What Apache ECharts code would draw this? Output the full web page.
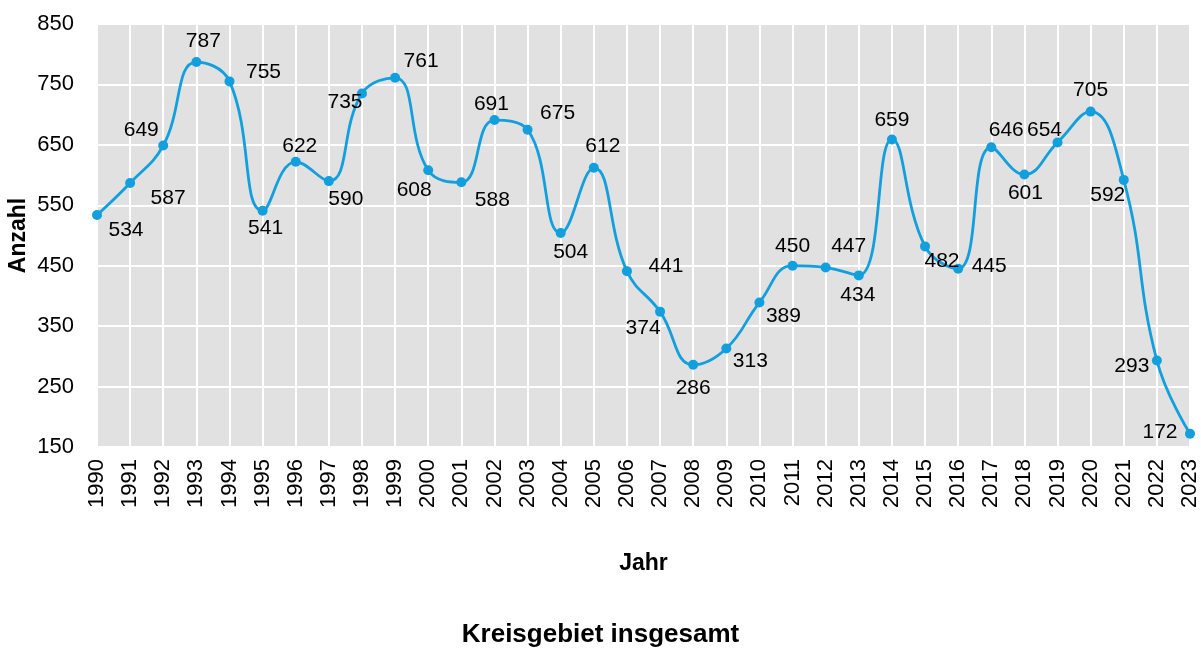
<!DOCTYPE html>
<html><head><meta charset="utf-8">
<script src="https://cdn.jsdelivr.net/npm/echarts@6/dist/echarts.min.js"></script>
<style>html,body{margin:0;padding:0;background:#fff}#c{width:1201px;height:650px}</style>
</head><body><div id="c"></div>
<script>
const years = ['1990','1991','1992','1993','1994','1995','1996','1997','1998','1999','2000','2001','2002','2003','2004','2005','2006','2007','2008','2009','2010','2011','2012','2013','2014','2015','2016','2017','2018','2019','2020','2021','2022','2023'];
const values = [534,587,649,787,755,541,622,590,735,761,608,588,691,675,504,612,441,374,286,313,389,450,447,434,659,482,445,646,601,654,705,592,293,172];
const yTicks = [150,250,350,450,550,650,750,850];
// label offsets (style only)
const labelOffsets = [[29,15],[38,15],[-22,-15],[7,-21],[34,-9],[3,17],[4,-16],[17,18],[-17,9],[26,-17],[-14,20],[31,18],[-3,-16],[30,-17],[10,19],[9,-22],[39,-5],[-17,17],[0,23],[24,13],[24,14],[0,-20],[23,-21],[-1,20],[0,-19],[17,15],[31,-3],[15,-17],[1,19],[-13,-12],[0,-21],[-16,15],[-25,6],[-30,-2]];
const FONT = '"Liberation Sans", Arial, sans-serif';
const chart = echarts.init(document.getElementById('c'));
chart.setOption({
  animation:false,
  backgroundColor:'#fff',
  title:{text:'Kreisgebiet insgesamt',left:'center',top:617,textStyle:{fontFamily:FONT,fontSize:26,fontWeight:'bold',color:'#000'}},
  grid:{left:97,right:11,top:24,bottom:203,backgroundColor:'#e1e1e1',show:true,borderWidth:0,containLabel:false,outerBoundsMode:'none'},
  xAxis:{type:'category',data:years,boundaryGap:false,
    name:'Jahr',nameLocation:'middle',nameGap:105,nameMoveOverlap:false,nameTextStyle:{fontFamily:FONT,fontSize:23,fontWeight:'bold',color:'#000'},
    axisLine:{show:false},axisTick:{show:false},
    axisLabel:{rotate:90,fontFamily:FONT,fontSize:22,color:'#000',margin:12,interval:0},
    splitLine:{show:true,lineStyle:{color:'#fff',width:2}}},
  yAxis:{type:'value',min:yTicks[0],max:yTicks[yTicks.length-1],interval:100,
    name:'Anzahl',nameLocation:'middle',nameGap:67,nameMoveOverlap:false,nameTextStyle:{fontFamily:FONT,fontSize:23,fontWeight:'bold',color:'#000'},
    axisLine:{show:false},axisTick:{show:false},
    axisLabel:{fontFamily:FONT,fontSize:22,color:'#000',margin:23},
    splitLine:{show:true,lineStyle:{color:'#fff',width:2}}},
  series:[{type:'line',smooth:0.45,smoothConstraint:false,
    data:values.map((v,i)=>({value:v,label:{offset:labelOffsets[i]}})),
    symbol:'circle',symbolSize:10,
    lineStyle:{color:'#129fdd',width:2.8},
    itemStyle:{color:'#129fdd'},
    label:{show:true,position:'inside',align:'center',verticalAlign:'middle',fontFamily:FONT,fontSize:21,color:'#000'}
  }]
});
</script></body></html>
